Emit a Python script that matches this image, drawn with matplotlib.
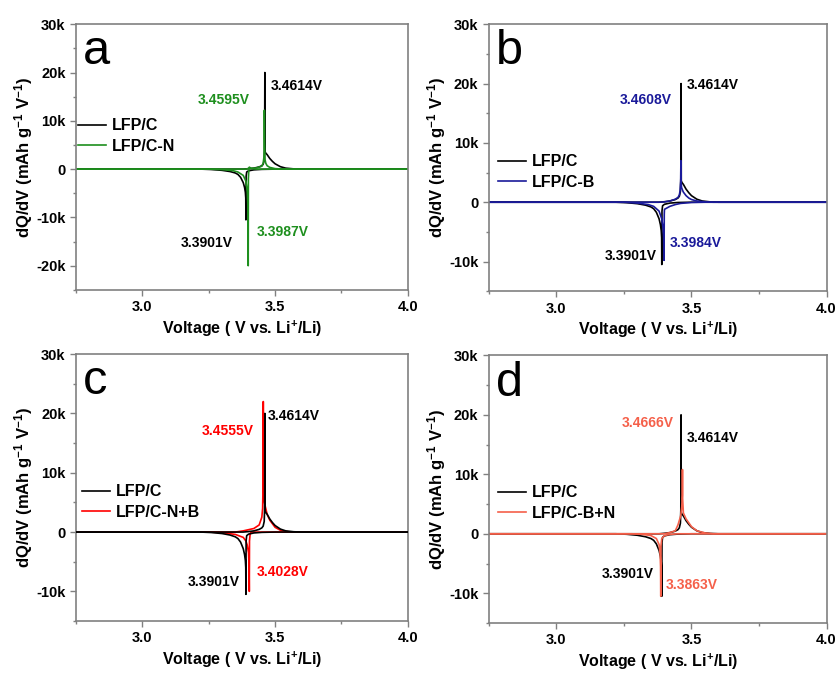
import matplotlib
matplotlib.use('Agg')
import matplotlib.pyplot as plt
from matplotlib.ticker import MultipleLocator

plt.rcParams['font.family'] = ['Liberation Sans', 'DejaVu Sans']
plt.rcParams['mathtext.default'] = 'regular'

# reference LFP/C (same in all panels)
v_ref_chg = [2.75, 3.30, 3.38, 3.40, 3.42, 3.44, 3.45, 3.455, 3.459, 3.4605, 3.4614, 3.4622,
             3.465, 3.47, 3.48, 3.49, 3.50, 3.52, 3.54, 3.57, 3.60, 4.00]
q_ref_chg = [0, 0, 0, 80, 200, 450, 700, 1000, 1800, 4000, 20000, 3600,
             3300, 3000, 2200, 1600, 1100, 500, 200, 50, 0, 0]
v_ref_dis = [2.75, 3.22, 3.26, 3.30, 3.33, 3.35, 3.36, 3.37, 3.38, 3.385, 3.388, 3.3895,
             3.3901, 3.3908, 3.393, 3.40, 3.42, 3.45, 3.50, 4.00]
q_ref_dis = [0, 0, -80, -250, -500, -800, -1100, -1700, -2800, -3800, -4800, -6000,
             -10500, -1500, -600, -350, -150, -50, 0, 0]

# LFP/C-N
v_n_chg = [2.75, 3.39, 3.40, 3.403, 3.41, 3.43, 3.45, 3.455, 3.458, 3.459, 3.4595, 3.4603,
           3.462, 3.465, 3.47, 3.48, 3.50, 3.53, 4.00]
q_n_chg = [0, 0, 150, 400, 150, 250, 600, 1200, 2500, 6000, 12200, 6200,
           2000, 1200, 700, 350, 100, 0, 0]
v_n_dis = [2.75, 3.25, 3.30, 3.34, 3.36, 3.38, 3.39, 3.395, 3.397, 3.398, 3.3987, 3.3993,
           3.401, 3.403, 3.41, 3.43, 4.00]
q_n_dis = [0, 0, -100, -300, -600, -1300, -2500, -4500, -7000, -10000, -20000, -2000,
           -200, 300, 100, 0, 0]

# LFP/C-B
v_b_chg = [2.75, 3.38, 3.40, 3.42, 3.44, 3.45, 3.455, 3.458, 3.460, 3.4608, 3.4615, 3.463,
           3.467, 3.47, 3.48, 3.49, 3.50, 3.52, 3.55, 3.58, 4.00]
q_b_chg = [0, 0, 50, 200, 500, 800, 1200, 2000, 3500, 7000, 3500, 2500,
           2000, 1700, 1100, 700, 450, 200, 60, 0, 0]
v_b_dis = [2.75, 3.25, 3.30, 3.34, 3.36, 3.38, 3.39, 3.395, 3.397, 3.3984, 3.3992, 3.40,
           3.42, 3.44, 3.46, 3.50, 3.55, 4.00]
q_b_dis = [0, 0, -150, -400, -700, -1500, -2800, -4500, -6000, -9800, -2000, -1200,
           -700, -400, -200, -50, 0, 0]

# LFP/C-N+B
v_nb_chg = [2.75, 3.35, 3.38, 3.42, 3.44, 3.45, 3.453, 3.455, 3.4555, 3.456, 3.458, 3.462,
            3.47, 3.48, 3.50, 3.52, 3.55, 3.58, 4.00]
q_nb_chg = [0, 0, 200, 600, 1200, 2500, 4000, 9000, 22000, 9000, 5500, 4500,
            3000, 2000, 800, 300, 50, 0, 0]
v_nb_dis = [2.75, 3.25, 3.30, 3.35, 3.38, 3.39, 3.395, 3.40, 3.402, 3.4028, 3.4035, 3.406,
            3.41, 4.00]
q_nb_dis = [0, 0, -100, -400, -900, -1500, -2200, -3500, -6000, -10000, -1500, -300,
            0, 0]

# LFP/C-B+N
v_bn_chg = [2.75, 3.40, 3.42, 3.44, 3.45, 3.46, 3.464, 3.466, 3.4666, 3.4672, 3.47, 3.48,
            3.50, 3.52, 3.55, 3.58, 4.00]
q_bn_chg = [0, 0, 200, 500, 1500, 3000, 4500, 6500, 10800, 6000, 3500, 2500,
            1200, 500, 150, 0, 0]
v_bn_dis = [2.75, 3.28, 3.32, 3.35, 3.37, 3.38, 3.384, 3.3855, 3.3863, 3.387, 3.39, 3.40,
            3.42, 3.45, 4.00]
q_bn_dis = [0, 0, -100, -300, -800, -1800, -3500, -5500, -10500, -2000, -800, -300,
            -100, 0, 0]

names = ['LFP/C-N', 'LFP/C-B', 'LFP/C-N+B', 'LFP/C-B+N']
colors = ['#1e8f1e', '#1a1a9a', '#ff0000', '#f5604a']
letters = ['a', 'b', 'c', 'd']
peak_ref = ['3.4614V', '3.3901V']
peak_labels = [['3.4595V', '3.3987V'], ['3.4608V', '3.3984V'],
               ['3.4555V', '3.4028V'], ['3.4666V', '3.3863V']]

ytick_vals_a = [-20000, -10000, 0, 10000, 20000, 30000]
ytick_lab_a = ['-20k', '-10k', '0', '10k', '20k', '30k']
ytick_vals = [-10000, 0, 10000, 20000, 30000]
ytick_lab = ['-10k', '0', '10k', '20k', '30k']

series = [(v_n_chg, q_n_chg, v_n_dis, q_n_dis),
          (v_b_chg, q_b_chg, v_b_dis, q_b_dis),
          (v_nb_chg, q_nb_chg, v_nb_dis, q_nb_dis),
          (v_bn_chg, q_bn_chg, v_bn_dis, q_bn_dis)]

# axes rectangles and text spots
rects = [[0.0905, 0.570, 0.395, 0.394], [0.582, 0.568, 0.402, 0.396],
         [0.0905, 0.0786, 0.395, 0.396], [0.582, 0.0757, 0.402, 0.397]]
leg_pos = [(0.006, 0.579), (0.027, 0.446), (0.018, 0.446), (0.027, 0.448)]
# (x, y, ha) for ref charge, ref discharge, sample charge, sample discharge
txt_pos = [
    [(3.485, 17300, 'left'), (3.342, -15200, 'right'), (3.405, 14400, 'right'), (3.429, -13000, 'left')],
    [(3.482, 19700, 'left'), (3.371, -9000, 'right'), (3.426, 17300, 'right'), (3.419, -6900, 'left')],
    [(3.474, 19500, 'left'), (3.368, -8500, 'right'), (3.421, 17000, 'right'), (3.429, -6700, 'left')],
    [(3.482, 16100, 'left'), (3.360, -6800, 'right'), (3.434, 18600, 'right'), (3.404, -8600, 'left')],
]

fig = plt.figure(figsize=(8.4, 6.74), dpi=100)
spine_c = '#808080'

for i in range(4):
    ax = fig.add_axes(rects[i])
    vc, qc, vd, qd = series[i]
    col = colors[i]
    ref_z = 3 if i == 2 else 1
    ax.plot(v_ref_chg, q_ref_chg, color='k', lw=1.2, zorder=ref_z, label='LFP/C')
    ax.plot(v_ref_dis, q_ref_dis, color='k', lw=1.2, zorder=ref_z)
    ax.plot(vc, qc, color=col, lw=1.2, zorder=2, label=names[i])
    ax.plot(vd, qd, color=col, lw=1.2, zorder=2)

    ax.set_xlim(2.75, 4.0)
    if i == 0:
        ax.set_ylim(-25000, 30000)
        ax.set_yticks(ytick_vals_a, ytick_lab_a)
    else:
        ax.set_ylim(-15000, 30000)
        ax.set_yticks(ytick_vals, ytick_lab)
    ax.set_xticks([3.0, 3.5, 4.0], ['3.0', '3.5', '4.0'])
    ax.xaxis.set_minor_locator(MultipleLocator(0.25))
    ax.yaxis.set_minor_locator(MultipleLocator(5000))
    ax.tick_params(which='both', direction='out', colors=spine_c, labelcolor='k',
                   labelsize=10.5, width=1.0)
    ax.tick_params(which='major', length=4)
    ax.tick_params(which='minor', length=2.5)
    for lab in ax.get_xticklabels() + ax.get_yticklabels():
        lab.set_fontweight('bold')
    for s in ax.spines.values():
        s.set_color(spine_c)
        s.set_linewidth(1.2)

    ax.set_xlabel('Voltage ( V vs. Li$^{+}$/Li)', fontsize=11.5, fontweight='bold', labelpad=3)
    ax.set_ylabel('dQ/dV (mAh g$^{-1}$ V$^{-1}$)', fontsize=12, fontweight='bold', labelpad=1)

    ax.text(0.022, 0.85, letters[i], transform=ax.transAxes, fontsize=35,
            ha='left', va='baseline')

    leg = ax.legend(loc='center left', bbox_to_anchor=leg_pos[i], frameon=False,
                    borderpad=0, borderaxespad=0, handlelength=1.75, handletextpad=0.4,
                    labelspacing=0.35, prop={'weight': 'bold', 'size': 11.5})

    labs = [peak_ref[0], peak_ref[1], peak_labels[i][0], peak_labels[i][1]]
    cols = ['k', 'k', col, col]
    for (x, y, ha), t, c in zip(txt_pos[i], labs, cols):
        ax.text(x, y, t, color=c, fontsize=10, fontweight='bold', ha=ha, va='center')

fig.savefig('out.png', dpi=100)
